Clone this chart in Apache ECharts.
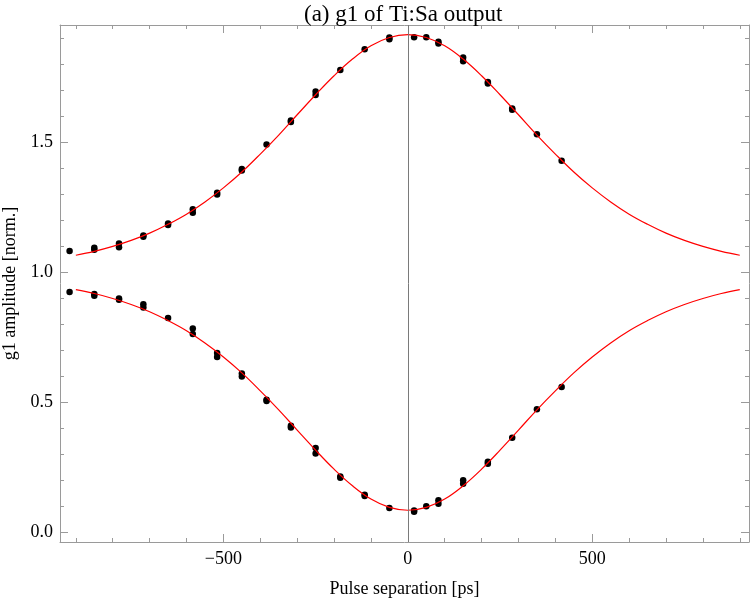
<!DOCTYPE html>
<html>
<head>
<meta charset="utf-8">
<script src="https://cdn.jsdelivr.net/npm/echarts@6/dist/echarts.min.js"></script>
<style>html,body{margin:0;padding:0;background:#fff;}#c{width:750px;height:601px;}</style>
</head>
<body>
<div id="c"></div>
<script>
// Fit curves at x = -900..900 step 50
const curveX = [-900,-850,-800,-750,-700,-650,-600,-550,-500,-450,-400,-350,-300,-250,-200,-150,-100,-50,0,50,100,150,200,250,300,350,400,450,500,550,600,650,700,750,800,850,900];
const upperCurve = [1.066,1.081,1.100,1.123,1.151,1.185,1.224,1.271,1.325,1.386,1.455,1.528,1.606,1.683,1.756,1.820,1.871,1.903,1.914,1.903,1.871,1.820,1.756,1.683,1.606,1.528,1.455,1.386,1.325,1.271,1.224,1.185,1.151,1.123,1.100,1.081,1.066];
const lowerCurve = [0.934,0.919,0.900,0.877,0.849,0.815,0.776,0.729,0.675,0.614,0.545,0.472,0.394,0.317,0.244,0.180,0.129,0.097,0.086,0.097,0.129,0.180,0.244,0.317,0.394,0.472,0.545,0.614,0.675,0.729,0.776,0.815,0.849,0.877,0.900,0.919,0.934];

// Measured points
const upperX = [-917,-850,-850,-783,-783,-717,-717,-650,-650,-583,-583,-517,-517,-450,-450,-383,-317,-317,-250,-250,-183,-117,-50,-50,17,50,83,83,150,150,217,217,283,283,350,417];
const upperY = [1.082,1.095,1.087,1.111,1.097,1.142,1.137,1.188,1.182,1.243,1.229,1.306,1.300,1.398,1.392,1.492,1.584,1.578,1.695,1.682,1.778,1.858,1.903,1.896,1.904,1.904,1.887,1.880,1.826,1.812,1.732,1.726,1.630,1.625,1.531,1.429];
const lowerX = [-917,-850,-850,-783,-783,-717,-717,-650,-583,-583,-517,-517,-450,-450,-383,-383,-317,-317,-250,-250,-183,-183,-117,-117,-50,17,17,50,83,83,150,150,217,217,283,350,417];
const lowerY = [0.925,0.917,0.910,0.900,0.895,0.878,0.865,0.825,0.785,0.763,0.690,0.675,0.612,0.600,0.511,0.506,0.411,0.404,0.325,0.304,0.216,0.211,0.146,0.141,0.095,0.085,0.080,0.101,0.124,0.111,0.201,0.188,0.272,0.265,0.365,0.474,0.560];

// Ticks
const xMajorTicks = [-500,0,500];
const xMinorTicks = [-900,-800,-700,-600,-400,-300,-200,-100,100,200,300,400,600,700,800,900];
const yMajorTicks = [0,0.5,1.0,1.5];
const yMinorTicks = [0.1,0.2,0.3,0.4,0.6,0.7,0.8,0.9,1.1,1.2,1.3,1.4,1.6,1.7,1.8,1.9];

const X_MIN = -943, X_MAX = 925, Y_MIN = -0.036, Y_MAX = 1.951;
const FONT = 'Liberation Serif';
const frameColor = '#9a9a9a';

function xAx(pos, ticks, len, showLabel, showLine, extra) {
  return Object.assign({
    type: 'value', position: pos, min: X_MIN, max: X_MAX,
    axisLine: {show: showLine, onZero: false, lineStyle: {color: frameColor, width: 1}},
    axisTick: {show: true, inside: true, length: len, customValues: ticks, lineStyle: {color: frameColor, width: 1}},
    axisLabel: showLabel ? {show: true, customValues: ticks, margin: 8, fontFamily: FONT, fontSize: 18, color: '#000',
      formatter: v => v < 0 ? '\u2212' + Math.abs(v) : String(v)} : {show: false},
    splitLine: {show: false}
  }, extra || {});
}
function yAx(pos, ticks, len, showLabel, showLine, extra) {
  return Object.assign({
    type: 'value', position: pos, min: Y_MIN, max: Y_MAX,
    axisLine: {show: showLine, onZero: false, lineStyle: {color: frameColor, width: 1}},
    axisTick: {show: true, inside: true, length: len, customValues: ticks, lineStyle: {color: frameColor, width: 1}},
    axisLabel: showLabel ? {show: true, customValues: ticks, margin: 7, fontFamily: FONT, fontSize: 18, color: '#000',
      formatter: v => v.toFixed(1)} : {show: false},
    splitLine: {show: false}
  }, extra || {});
}

const chart = echarts.init(document.getElementById('c'), null, {renderer: 'canvas'});
chart.setOption({
  animation: false,
  backgroundColor: '#fff',
  title: {text: '(a) g1 of Ti:Sa output', left: 299, top: -2,
    textStyle: {fontFamily: FONT, fontSize: 23, fontWeight: 'normal', color: '#000'}},
  grid: {left: 60, right: 1, top: 25, bottom: 59, containLabel: false, outerBoundsMode: 'none'},
  xAxis: [
    xAx('bottom', xMajorTicks, 8, true, true, {name: 'Pulse separation [ps]', nameLocation: 'middle', nameGap: 38,
      nameTextStyle: {fontFamily: FONT, fontSize: 18, color: '#000'}}),
    xAx('bottom', xMinorTicks, 4, false, false),
    xAx('top', xMajorTicks, 8, false, true),
    xAx('top', xMinorTicks, 4, false, false)
  ],
  yAxis: [
    yAx('left', yMajorTicks, 8, true, true, {name: 'g1 amplitude [norm.]', nameLocation: 'middle', nameGap: 41,
      nameTextStyle: {fontFamily: FONT, fontSize: 18, color: '#000'}}),
    yAx('left', yMinorTicks, 4, false, false),
    yAx('right', yMajorTicks, 8, false, true),
    yAx('right', yMinorTicks, 4, false, false)
  ],
  series: [
    {type: 'line', xAxisIndex: 0, yAxisIndex: 0, data: curveX.map((x, i) => [x, upperCurve[i]]),
      smooth: 0.4, showSymbol: false, lineStyle: {color: '#ff0000', width: 1.2}, silent: true,
      markLine: {silent: true, symbol: 'none', label: {show: false},
        lineStyle: {color: '#7a7a7a', width: 1, type: 'solid'}, data: [{xAxis: 0}]}},
    {type: 'line', xAxisIndex: 0, yAxisIndex: 0, data: curveX.map((x, i) => [x, lowerCurve[i]]),
      smooth: 0.4, showSymbol: false, lineStyle: {color: '#ff0000', width: 1.2}, silent: true},
    {type: 'scatter', xAxisIndex: 0, yAxisIndex: 0, data: upperX.map((x, i) => [x, upperY[i]]),
      symbolSize: 6.5, itemStyle: {color: '#000', opacity: 1}},
    {type: 'scatter', xAxisIndex: 0, yAxisIndex: 0, data: lowerX.map((x, i) => [x, lowerY[i]]),
      symbolSize: 6.5, itemStyle: {color: '#000', opacity: 1}}
  ]
});
</script>
</body>
</html>
